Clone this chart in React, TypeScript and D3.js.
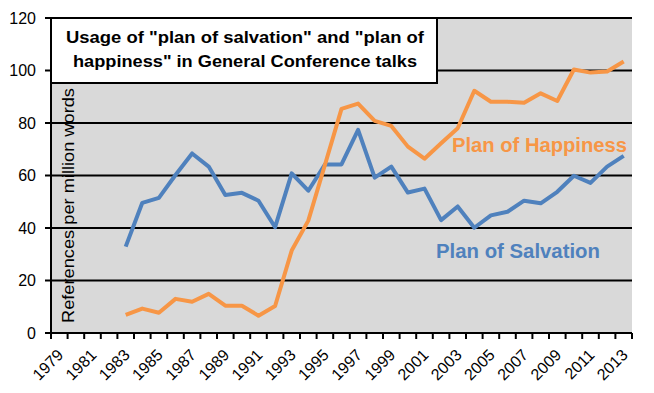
import * as d3 from "d3";

const years = d3.range(1979, 2014).map(String);
const dataYears = d3.range(1983, 2014).map(String);

const salvation = [
  32.9, 49.6, 51.5, 60.2, 68.4, 63.4, 52.6, 53.4, 50.4, 40.3, 60.8, 54.2, 64.2,
  64.2, 77.4, 59.2, 63.4, 53.5, 55.0, 43.0, 48.2, 40.1, 44.8, 46.2, 50.4, 49.4,
  53.8, 59.9, 57.2, 63.4, 67.5,
];

const happiness = [
  6.9, 9.3, 7.7, 13.0, 11.9, 14.9, 10.4, 10.4, 6.6, 10.3, 31.4, 42.8, 64.0,
  85.4, 87.4, 80.8, 78.9, 71.0, 66.4, 72.3, 78.0, 92.3, 88.1, 88.1, 87.7, 91.3,
  88.4, 100.4, 99.2, 99.6, 103.4,
];

const yTicks = [0, 20, 40, 60, 80, 100, 120];
const labelYears = years.filter((d, i) => i % 2 === 0);

const width = 654;
const height = 393;
const margin = { top: 18, right: 22, bottom: 60, left: 51 };

const BLUE = "#4F81BD";
const ORANGE = "#F79646";
const FONT = "'Liberation Sans', Arial, sans-serif";

export default function App() {
  const x = d3
    .scaleBand<string>()
    .domain(years)
    .range([margin.left, width - margin.right]);
  const y = d3
    .scaleLinear()
    .domain([0, 120])
    .range([height - margin.bottom, margin.top]);

  const line = d3
    .line<number>()
    .x((d, i) => (x(dataYears[i]) as number) + x.bandwidth() / 2)
    .y((d) => y(d));

  const x0 = margin.left;
  const x1 = width - margin.right;
  const yBase = y(0);

  // tick marks sit on the band boundaries
  const boundaries = years.map((d) => x(d) as number).concat([x1]);

  return (
    <svg
      width={width}
      height={height}
      style={{ position: "absolute", left: 0, top: 0, background: "#fff" }}
      fontFamily={FONT}
    >
      {/* plot background */}
      <rect x={x0} y={y(120)} width={x1 - x0} height={yBase - y(120)} fill="#D9D9D9" />

      {/* gridlines */}
      {yTicks.slice(1).map((t) => (
        <line key={t} x1={x0} x2={x1} y1={y(t)} y2={y(t)} stroke="#000" strokeWidth={2} />
      ))}

      {/* y axis */}
      <line x1={x0} x2={x0} y1={y(120)} y2={yBase} stroke="#000" strokeWidth={2} />
      {yTicks.map((t) => (
        <g key={t}>
          <line x1={x0 - 6} x2={x0} y1={y(t)} y2={y(t)} stroke="#000" strokeWidth={2} />
          <text x={36} y={y(t)} dy="0.35em" textAnchor="end" fontSize={16} fill="#000">
            {t}
          </text>
        </g>
      ))}

      {/* x axis */}
      <line x1={x0 - 1} x2={x1} y1={yBase} y2={yBase} stroke="#000" strokeWidth={2} />
      {boundaries.map((b, i) => (
        <line key={i} x1={b} x2={b} y1={yBase} y2={yBase + 6} stroke="#000" strokeWidth={2} />
      ))}
      {labelYears.map((d) => {
        const cx = (x(d) as number) + x.bandwidth() / 2 + 5;
        const cy = yBase + 23;
        return (
          <text
            key={d}
            x={cx}
            y={cy}
            textAnchor="end"
            fontSize={16}
            fill="#000"
            transform={`rotate(-45,${cx},${cy})`}
          >
            {d}
          </text>
        );
      })}

      {/* y axis title */}
      <text
        transform={`translate(73.5,205.5) rotate(-90)`}
        textAnchor="middle"
        fontSize={16.5}
        textLength={235}
        lengthAdjust="spacingAndGlyphs"
        fill="#000"
      >
        References per million words
      </text>

      {/* series */}
      <path d={line(salvation) || ""} fill="none" stroke={BLUE} strokeWidth={4} strokeLinejoin="round" />
      <path d={line(happiness) || ""} fill="none" stroke={ORANGE} strokeWidth={4} strokeLinejoin="round" />

      {/* series labels */}
      <text x={452} y={151.5} fontSize={20} fontWeight="bold" fill={ORANGE} textLength={175} lengthAdjust="spacingAndGlyphs">
        Plan of Happiness
      </text>
      <text x={436} y={258} fontSize={20} fontWeight="bold" fill={BLUE} textLength={164} lengthAdjust="spacingAndGlyphs">
        Plan of Salvation
      </text>

      {/* title box */}
      <rect x={x0} y={y(120)} width={437 - x0} height={83 - y(120)} fill="#fff" stroke="#000" strokeWidth={2} />
      <text x={66} y={42.5} fontSize={17} fontWeight="bold" fill="#000" textLength={358} lengthAdjust="spacingAndGlyphs">
        Usage of "plan of salvation" and "plan of
      </text>
      <text x={73} y={67} fontSize={17} fontWeight="bold" fill="#000" textLength={344} lengthAdjust="spacingAndGlyphs">
        happiness" in General Conference talks
      </text>
    </svg>
  );
}
